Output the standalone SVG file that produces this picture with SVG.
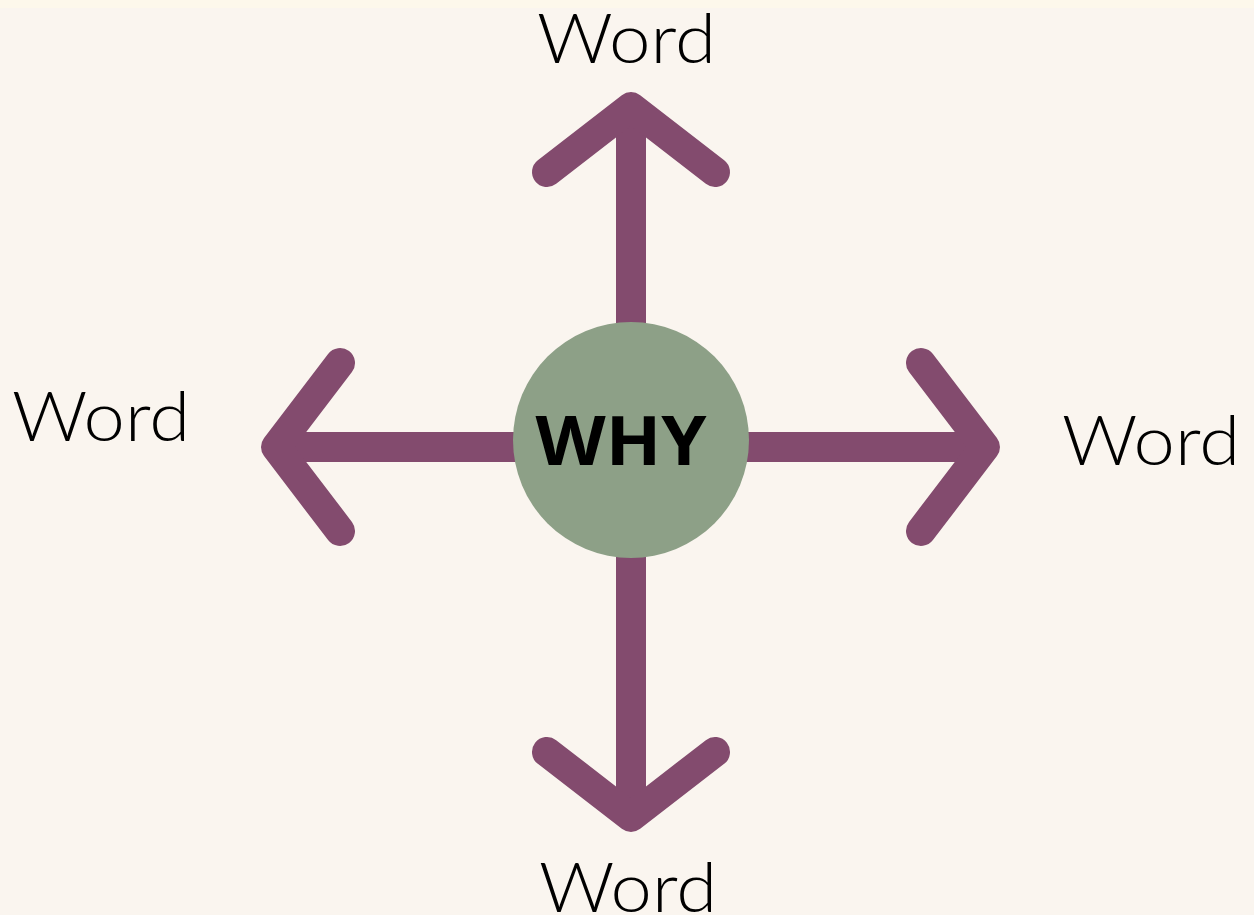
<svg xmlns="http://www.w3.org/2000/svg" width="1254" height="915" viewBox="0 0 1254 915">
<style>
.arrow{fill:none;stroke:#834B6E;stroke-width:30;stroke-linecap:round;stroke-linejoin:round}
.shaft{fill:none;stroke:#834B6E;stroke-width:30}
.word{font-family:Lato,"Noto Sans",sans-serif;font-weight:300;font-size:69px;fill:#000}
.why{font-family:"Open Sans","Liberation Sans",sans-serif;font-weight:700;font-size:68px;fill:#000}
</style>
<rect width="1254" height="915" fill="#FAF5EF"/>
<rect width="1254" height="8" fill="#FDF8EB"/>
<g id="connectors">
<line class="shaft" x1="631" y1="110" x2="631" y2="814"/>
<line class="shaft" x1="279" y1="447" x2="982" y2="447"/>
<polyline class="arrow" points="547,172 631,107 715,172"/>
<polyline class="arrow" points="547,752 631,817 715,752"/>
<polyline class="arrow" points="340,363 276,447 340,531"/>
<polyline class="arrow" points="921,363 985,447 921,531"/>
</g>
<g id="center">
<circle cx="631" cy="440" r="118" fill="#8DA087"/>
<text class="why" x="621" y="465" text-anchor="middle" textLength="171" lengthAdjust="spacingAndGlyphs">WHY</text>
</g>
<g id="word-top"><text class="word" x="537" y="63" textLength="179" lengthAdjust="spacingAndGlyphs">Word</text></g>
<g id="word-left"><text class="word" x="12" y="441" textLength="178" lengthAdjust="spacingAndGlyphs">Word</text></g>
<g id="word-right"><text class="word" x="1062" y="465" textLength="178" lengthAdjust="spacingAndGlyphs">Word</text></g>
<g id="word-bottom"><text class="word" x="539" y="912" textLength="178" lengthAdjust="spacingAndGlyphs">Word</text></g>
</svg>
